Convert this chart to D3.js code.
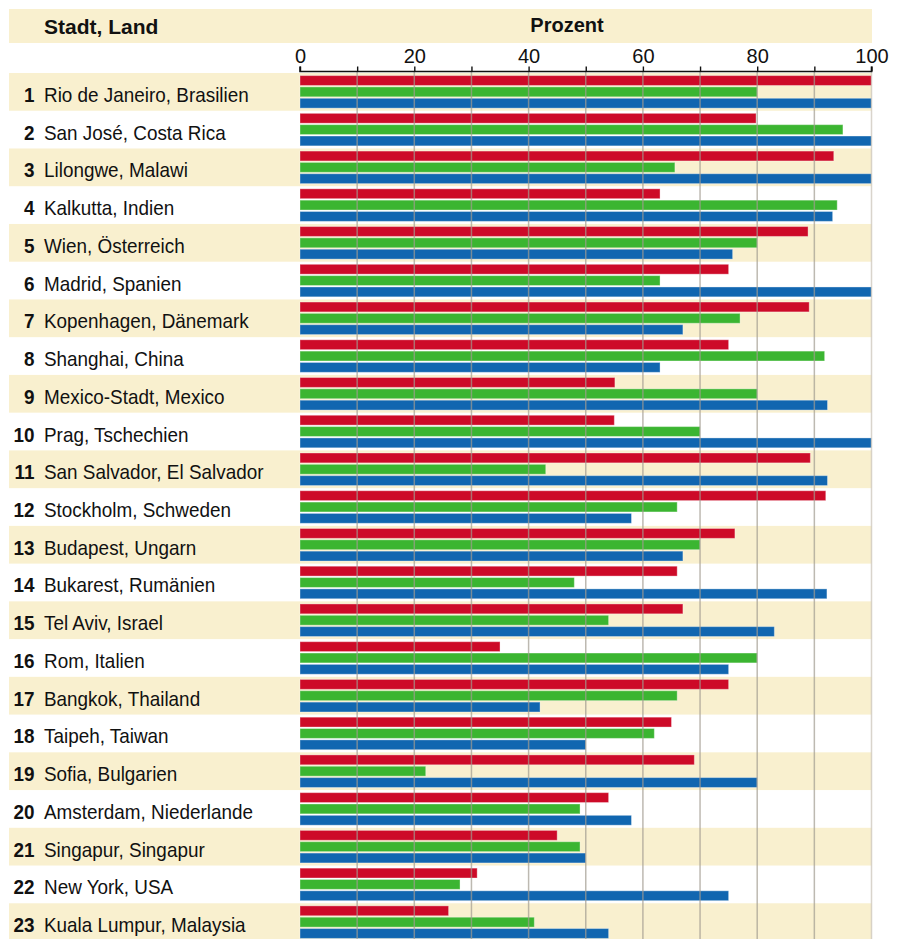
<!DOCTYPE html>
<html>
<head>
<meta charset="utf-8">
<script src="https://cdn.jsdelivr.net/npm/d3@7"></script>
<style>
  body { margin: 0; background: #fff; }
  svg text { fill: #111; }
  .wide { font-family: "Liberation Sans", Arial, sans-serif; }
</style>
</head>
<body>
<div id="chart"></div>
<script>
var cities = [
  "Rio de Janeiro, Brasilien", "San José, Costa Rica", "Lilongwe, Malawi",
  "Kalkutta, Indien", "Wien, Österreich", "Madrid, Spanien",
  "Kopenhagen, Dänemark", "Shanghai, China", "Mexico-Stadt, Mexico",
  "Prag, Tschechien", "San Salvador, El Salvador", "Stockholm, Schweden",
  "Budapest, Ungarn", "Bukarest, Rumänien", "Tel Aviv, Israel",
  "Rom, Italien", "Bangkok, Thailand", "Taipeh, Taiwan",
  "Sofia, Bulgarien", "Amsterdam, Niederlande", "Singapur, Singapur",
  "New York, USA", "Kuala Lumpur, Malaysia"
];
var redValues = [100, 79.8, 93.4, 63, 88.9, 75, 89.1, 75, 55.1, 55, 89.3, 92,
  76.1, 66, 67, 35, 75, 65, 69, 54, 45, 31, 26];
var greenValues = [80, 95, 65.6, 94, 80, 63, 77, 91.8, 80, 70, 43, 66,
  70, 48, 54, 80, 66, 62, 22, 49, 49, 28, 41];
var blueValues = [100, 100, 100, 93.2, 75.7, 100, 67, 63, 92.3, 100, 92.3, 58,
  67, 92.2, 83, 75, 42, 50, 80, 58, 50, 75, 54];
var tickValues = [0, 20, 40, 60, 80, 100];

var width = 899, height = 939;
var rowTop = 73, rowH = 37.74;
var squeeze = 0.9; // labels are set in a condensed face

var svg = d3.select("#chart").append("svg")
  .attr("width", width)
  .attr("height", height);

var x = d3.scaleLinear().domain([0, 100]).range([300, 871.5]);
var y = d3.scaleBand()
  .domain(d3.range(cities.length))
  .range([rowTop, rowTop + rowH * cities.length]);
var series = [
  {key: "rot", color: "#cd0a28", values: redValues},
  {key: "gruen", color: "#3bb531", values: greenValues},
  {key: "blau", color: "#1166b0", values: blueValues}
];
var ySub = d3.scaleBand()
  .domain(series.map((s) => s.key))
  .range([2.6, rowH - 2.6])
  .paddingInner(0.13);

// header band
svg.append("rect")
  .attr("x", 9).attr("y", 9)
  .attr("width", 863).attr("height", 34)
  .attr("fill", "#f9f0cf");
svg.append("text")
  .attr("class", "wide")
  .attr("x", 44).attr("y", 33.5)
  .attr("font-size", 21).attr("font-weight", "bold")
  .text("Stadt, Land");
svg.append("text")
  .attr("class", "wide")
  .attr("x", 567).attr("y", 32)
  .attr("text-anchor", "middle")
  .attr("font-size", 20).attr("font-weight", "bold")
  .text("Prozent");

// alternating row bands
svg.append("g").selectAll("rect")
  .data(cities.filter((c, i) => i % 2 === 0))
  .join("rect")
  .attr("x", 9)
  .attr("y", (c) => y(cities.indexOf(c)))
  .attr("width", x(100) - 9)
  .attr("height", rowH)
  .attr("fill", "#f9f0cf");

// row labels
var rows = svg.append("g").selectAll("g")
  .data(cities)
  .join("g")
  .attr("transform", (c, i) =>
    `translate(0,${y(i) + rowH / 2 + 10}) scale(${squeeze},1)`);
rows.append("text")
  .attr("class", "wide")
  .attr("x", 34.5 / squeeze)
  .attr("text-anchor", "end")
  .attr("font-size", 21).attr("font-weight", "bold")
  .text((c, i) => i + 1);
rows.append("text")
  .attr("class", "wide")
  .attr("x", 44 / squeeze)
  .attr("font-size", 21)
  .text((c) => c);

// bars
svg.append("g").selectAll("g")
  .data(series)
  .join("g")
  .attr("fill", (s) => s.color)
  .selectAll("rect")
  .data((s) => s.values.map((v, i) => ({key: s.key, v: v, i: i})))
  .join("rect")
  .attr("x", x(0))
  .attr("y", (d) => y(d.i) + ySub(d.key))
  .attr("width", (d) => x(d.v) - x(0))
  .attr("height", ySub.bandwidth())
  .attr("stroke", "rgba(255,255,255,0.35)")
  .attr("stroke-width", 1);

// grid lines over the bars
svg.append("g").selectAll("line")
  .data(d3.range(10, 101, 10))
  .join("line")
  .attr("x1", (d) => x(d)).attr("x2", (d) => x(d))
  .attr("y1", 71).attr("y2", height)
  .attr("stroke", (d) => d === 100 ? "#c9c2b6" : "#a19b90")
  .attr("stroke-opacity", 0.7)
  .attr("stroke-width", 1.5);

// top axis
var xAxis = d3.axisTop(x)
  .tickValues(d3.range(0, 101, 10))
  .tickSize(5)
  .tickPadding(4)
  .tickFormat((d) => tickValues.includes(d) ? d : "");
var axis = svg.append("g")
  .attr("class", "x axis wide")
  .attr("transform", "translate(0,71.5)")
  .call(xAxis);
axis.select(".domain")
  .attr("d", `M${x(0)},-5V0H${x(100)}V-5`)
  .attr("stroke", "#111")
  .attr("stroke-width", 1.6);
axis.selectAll(".tick line")
  .attr("stroke", "#111")
  .attr("stroke-width", 1.4);
axis.selectAll(".tick text")
  .attr("font-size", 20)
  .attr("font-family", "Liberation Sans, Arial, sans-serif")
  .attr("fill", "#111");
</script>
</body>
</html>
